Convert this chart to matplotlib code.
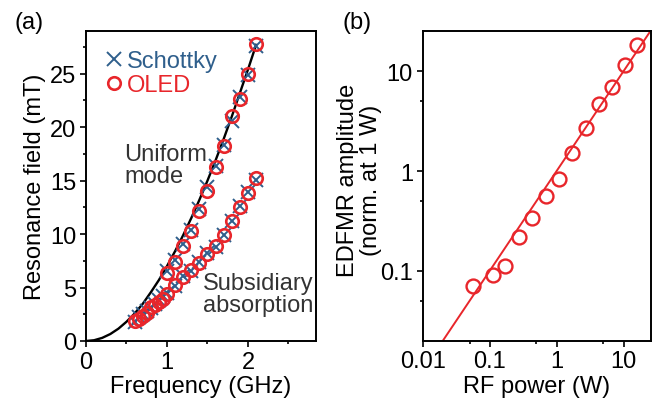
import numpy as np
import matplotlib.pyplot as plt
from matplotlib.ticker import FixedLocator, FixedFormatter, MultipleLocator

plt.rcParams['font.family'] = ['Liberation Sans', 'DejaVu Sans']
plt.rcParams['font.size'] = 17

RED = '#e8262b'
BLUE = '#2f5f8c'

# (a) resonance field vs frequency
f_uni = [1.0, 1.1, 1.2, 1.3, 1.4, 1.5, 1.6, 1.7, 1.8, 1.9, 2.0, 2.1]
b_uni_oled = [6.4, 7.4, 8.9, 10.3, 12.2, 14.0, 16.3, 18.2, 21.0, 22.6, 25.0, 27.8]
b_uni_schottky = [6.5, 7.6, 9.1, 10.4, 12.3, 14.4, 16.4, 18.3, 20.6, 22.8, 24.9, 27.6]

f_sub = [0.6, 0.65, 0.7, 0.75, 0.8, 0.85, 0.9, 0.95, 1.0, 1.1, 1.2, 1.3, 1.4,
         1.5, 1.6, 1.7, 1.8, 1.9, 2.0, 2.1]
b_sub_oled = [1.9, 2.1, 2.3, 2.6, 3.2, 3.4, 3.6, 3.9, 4.4, 5.2, 6.0, 6.6, 7.3,
              8.1, 8.9, 9.9, 11.25, 12.5, 13.85, 15.2]
b_sub_schottky = [1.8, 2.2, 2.5, 2.8, 3.1, 3.5, 3.8, 4.2, 4.5, 5.1, 6.1, 6.5, 7.4,
                  8.2, 8.8, 9.9, 11.2, 12.6, 13.9, 15.1]

# Kittel fit curve
f_fit = [0, 0.1, 0.2, 0.3, 0.4, 0.5, 0.6, 0.7, 0.8, 0.9, 1.0, 1.1, 1.2, 1.3,
         1.4, 1.5, 1.6, 1.7, 1.8, 1.9, 2.0, 2.1]
b_fit = [0, 0.07, 0.29, 0.65, 1.15, 1.8, 2.57, 3.47, 4.55, 5.7, 7.0, 8.4, 9.9,
         11.5, 13.2, 15.0, 16.9, 18.9, 21.0, 23.2, 25.4, 27.7]

# (b) EDFMR amplitude vs RF power
p_rf = [0.056, 0.111, 0.169, 0.271, 0.428, 0.686, 1.08, 1.71, 2.71, 4.24, 6.7, 10.5, 15.6]
amp = [0.070, 0.092, 0.112, 0.218, 0.335, 0.557, 0.83, 1.50, 2.70, 4.70, 6.9, 11.4, 18.4]
p_line = [0.01, 30]
amp_line = [0.01, 30]

fig = plt.figure(figsize=(6.57, 4.10), dpi=100)
ax1 = fig.add_axes([0.1309, 0.1659, 0.3501, 0.7561])
ax2 = fig.add_axes([0.6434, 0.1666, 0.3475, 0.7544])

for ax in (ax1, ax2):
    for s in ax.spines.values():
        s.set_linewidth(1.4)
    ax.tick_params(which='major', length=4, width=1.2, direction='out', pad=3)
    ax.tick_params(which='minor', length=2.5, width=1.2, direction='out')

ax1.plot(f_fit, b_fit, color='black', lw=1.7, zorder=2)
ax1.plot(f_uni, b_uni_schottky, 'x', color=BLUE, ms=10, mew=1.4, ls='none',
         label='Schottky', zorder=3)
ax1.plot(f_sub, b_sub_schottky, 'x', color=BLUE, ms=10, mew=1.4, ls='none', zorder=3)
ax1.plot(f_uni, b_uni_oled, 'o', mfc='none', mec=RED, ms=9, mew=1.9, ls='none',
         label='OLED', zorder=4)
ax1.plot(f_sub, b_sub_oled, 'o', mfc='none', mec=RED, ms=9, mew=1.9, ls='none', zorder=4)

ax1.set_xlim(0, 2.84)
ax1.set_ylim(0, 29)
ax1.xaxis.set_major_locator(MultipleLocator(1))
ax1.xaxis.set_minor_locator(MultipleLocator(0.5))
ax1.yaxis.set_major_locator(MultipleLocator(5))
ax1.yaxis.set_minor_locator(MultipleLocator(2.5))
ax1.set_xlabel('Frequency (GHz)', labelpad=2)
ax1.set_ylabel('Resonance field (mT)', labelpad=3)

ax1.legend(loc='upper left', bbox_to_anchor=(0.03, 0.985), frameon=False,
           handlelength=0.6, handletextpad=0.25, labelspacing=0.1,
           borderaxespad=0.2, labelcolor='markeredgecolor', fontsize=17)

ax1.text(0.47, 16.5, 'Uniform\nmode', color='#333333', ha='left', va='center',
         linespacing=1.0)
ax1.text(1.44, 4.35, 'Subsidiary\nabsorption', color='#333333', ha='left',
         va='center', linespacing=1.0)

ax2.plot(p_line, amp_line, color=RED, lw=1.4, zorder=2)
ax2.plot(p_rf, amp, 'o', mfc='none', mec=RED, ms=10, mew=1.7, ls='none', zorder=3)
ax2.set_xscale('log')
ax2.set_yscale('log')
ax2.set_xlim(0.01, 25.7)
ax2.set_ylim(0.02, 25)
ax2.xaxis.set_major_locator(FixedLocator([0.01, 0.1, 1, 10]))
ax2.xaxis.set_major_formatter(FixedFormatter(['0.01', '0.1', '1', '10']))
ax2.xaxis.set_minor_locator(FixedLocator([0.05, 0.5, 5]))
ax2.yaxis.set_major_locator(FixedLocator([0.1, 1, 10]))
ax2.yaxis.set_major_formatter(FixedFormatter(['0.1', '1', '10']))
ax2.yaxis.set_minor_locator(FixedLocator([0.05, 0.5, 5]))
ax2.xaxis.set_minor_formatter(FixedFormatter(['', '', '']))
ax2.yaxis.set_minor_formatter(FixedFormatter(['', '', '']))
ax2.set_xlabel('RF power (W)', labelpad=2)
ax2.set_ylabel('EDFMR amplitude\n(norm. at 1 W)', linespacing=1.05)
ax2.yaxis.set_label_coords(-0.18, 0.52)

fig.text(0.022, 0.945, '(a)', fontsize=17, va='center', ha='left')
fig.text(0.522, 0.945, '(b)', fontsize=17, va='center', ha='left')

fig.savefig('out.png', dpi=100)
